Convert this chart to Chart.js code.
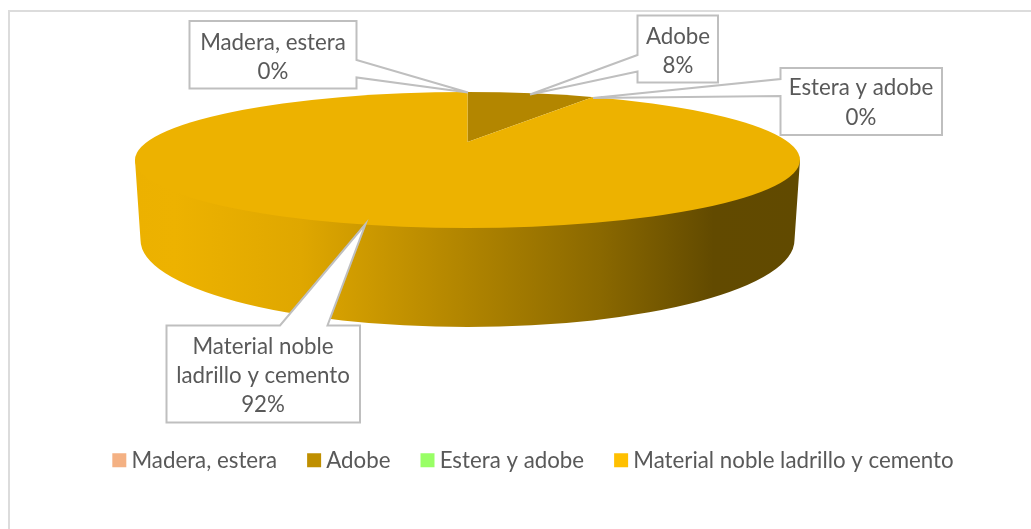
<!DOCTYPE html>
<html>
<head>
<meta charset="utf-8">
<title>Material de construccion</title>
<script src="https://cdn.jsdelivr.net/npm/chart.js@4/dist/chart.umd.min.js"></script>
<style>
  html, body { margin: 0; padding: 0; background: #fff; }
  canvas { display: block; }
</style>
</head>
<body>
<canvas id="chart" width="1031" height="529"></canvas>
<script>
// Chart data
const categories = ['Madera, estera', 'Adobe', 'Estera y adobe', 'Material noble ladrillo y cemento'];
const values = [0, 8, 0, 92];
const sliceColors = ['#e8a878', '#b38600', '#8ff05c', '#edb200'];
const legendColors = ['#f4b183', '#bf8f00', '#99ff66', '#ffc000'];
const calloutLines = [['Madera, estera'], ['Adobe'], ['Estera y adobe'], ['Material noble', 'ladrillo y cemento']];

const FONT = 'Lato, "Open Sans", sans-serif';
const TEXT = '#595959';
const LINE = '#bfbfbf';

// Top face of the disc, and the apex of the slices (set back, as in perspective)
const top3d = { x: 467.5, y: 160, rx: 332.5, ry: 68 };
const apex = { x: 467.5, y: 142, rx: 457, ry: 90 };
const bottom3d = { x: 467.5, y: 240, rx: 327, ry: 87 };

// Callout boxes: rectangle, pointer tip and the two pointer feet on the box edge
const callouts = [
  { box: [189.5, 21, 356.5, 88.5], tip: [468, 92.5], feet: [[356.5, 60], [356.5, 77.5]], cx: 273, ys: [43, 72] },
  { box: [637.5, 15.5, 718, 82.5], tip: [530, 94.5], feet: [[637.5, 55], [637.5, 71.5]], cx: 678, ys: [36.5, 65.5] },
  { box: [780.5, 68, 942, 135], tip: [593, 98], feet: [[780.5, 79], [780.5, 96]], cx: 861, ys: [88, 118] },
  { box: [166.5, 325.5, 360, 422.5], tip: [365.5, 224], feet: [[280, 325.5], [327.5, 325.5]], cx: 263, ys: [346.5, 376, 405] }
];

function ellipsePath(ctx, e) {
  ctx.beginPath();
  ctx.ellipse(e.x, e.y, e.rx, e.ry, 0, 0, Math.PI * 2);
}

// Wall of the disc, below the top face
function drawWall(ctx) {
  const g = ctx.createLinearGradient(135, 0, 800, 0);
  g.addColorStop(0, '#ecb100');
  g.addColorStop(0.06, '#edb200');
  g.addColorStop(0.25, '#dfa700');
  g.addColorStop(0.5, '#b08400');
  g.addColorStop(0.7, '#8a6800');
  g.addColorStop(0.87, '#624a00');
  g.addColorStop(1, '#614a00');
  ctx.save();
  ctx.fillStyle = g;
  ctx.beginPath();
  ctx.moveTo(top3d.x - top3d.rx, top3d.y);
  ctx.lineTo(bottom3d.x - bottom3d.rx, bottom3d.y);
  ctx.ellipse(bottom3d.x, bottom3d.y, bottom3d.rx, bottom3d.ry, 0, Math.PI, 0, true);
  ctx.lineTo(top3d.x + top3d.rx, top3d.y);
  ctx.closePath();
  ctx.fill();
  ctx.restore();
}

const tiltPlugin = {
  id: 'tilt',
  beforeDraw(chart) {
    // frame of the chart object, only top and left are inside the picture
    const ctx = chart.ctx;
    ctx.save();
    ctx.fillStyle = '#dcdcdc';
    ctx.fillRect(8, 10, 1023, 2);
    ctx.fillRect(8, 10, 2, 519);
    ctx.restore();
  },
  beforeDatasetsDraw(chart) {
    const ctx = chart.ctx;
    const arc = chart.getDatasetMeta(0).data[0];
    const r = arc.outerRadius;
    drawWall(ctx);
    ctx.save();
    ellipsePath(ctx, top3d);
    ctx.clip();
    ctx.translate(apex.x, apex.y);
    ctx.scale(apex.rx / r, apex.ry / r);
    ctx.translate(-arc.x, -arc.y);
  },
  afterDatasetsDraw(chart) {
    chart.ctx.restore();
  },
  afterDraw(chart) {
    const ctx = chart.ctx;
    ctx.save();
    ctx.font = '22.3px ' + FONT;
    ctx.textAlign = 'center';
    ctx.textBaseline = 'middle';
    callouts.forEach((c, i) => {
      const [l, t, r, b] = c.box;
      const f = c.feet;
      ctx.beginPath();
      if (f[0][1] === t) {
        // pointer leaves from the top edge
        ctx.moveTo(l, t);
        ctx.lineTo(f[0][0], t);
        ctx.lineTo(c.tip[0], c.tip[1]);
        ctx.lineTo(f[1][0], t);
        ctx.lineTo(r, t);
        ctx.lineTo(r, b);
        ctx.lineTo(l, b);
      } else if (f[0][0] === r) {
        // pointer leaves from the right edge
        ctx.moveTo(l, t);
        ctx.lineTo(r, t);
        ctx.lineTo(r, f[0][1]);
        ctx.lineTo(c.tip[0], c.tip[1]);
        ctx.lineTo(r, f[1][1]);
        ctx.lineTo(r, b);
        ctx.lineTo(l, b);
      } else {
        // pointer leaves from the left edge
        ctx.moveTo(l, t);
        ctx.lineTo(r, t);
        ctx.lineTo(r, b);
        ctx.lineTo(l, b);
        ctx.lineTo(l, f[1][1]);
        ctx.lineTo(c.tip[0], c.tip[1]);
        ctx.lineTo(l, f[0][1]);
      }
      ctx.closePath();
      ctx.fillStyle = '#fff';
      ctx.fill();
      ctx.strokeStyle = LINE;
      ctx.lineWidth = 2;
      ctx.stroke();

      ctx.fillStyle = TEXT;
      const lines = calloutLines[i].concat(values[i] + '%');
      lines.forEach((text, k) => ctx.fillText(text, c.cx, c.ys[k]));
    });
    ctx.restore();
  }
};

new Chart(document.getElementById('chart'), {
  type: 'pie',
  data: {
    labels: categories,
    datasets: [{ data: values, backgroundColor: sliceColors, borderWidth: 0 }]
  },
  options: {
    responsive: false,
    animation: false,
    layout: { padding: { left: 41, bottom: 47.5 } },
    plugins: {
      tooltip: { enabled: false },
      legend: {
        position: 'bottom',
        labels: {
          boxWidth: 2,
          boxHeight: 2,
          padding: 36,
          color: TEXT,
          font: { family: FONT, size: 22.3 },
          generateLabels: () => categories.map((text, i) => ({
            text,
            fillStyle: legendColors[i],
            strokeStyle: legendColors[i],
            lineWidth: 12,
            fontColor: TEXT,
            index: i
          }))
        }
      }
    }
  },
  plugins: [tiltPlugin]
});
</script>
</body>
</html>
